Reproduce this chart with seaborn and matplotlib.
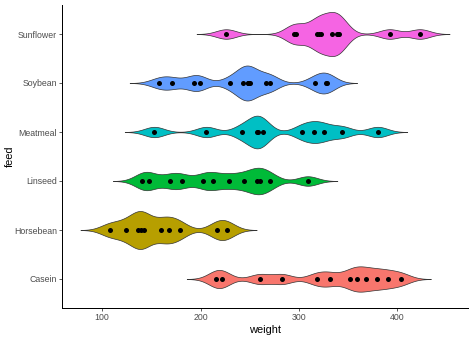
import numpy as np
import pandas as pd
import matplotlib
matplotlib.use("Agg")
import matplotlib.pyplot as plt
import seaborn as sns

# Chick weights by feed supplement
casein = [368, 390, 379, 260, 404, 318, 352, 359, 216, 222, 283, 332]
horsebean = [179, 160, 136, 227, 217, 168, 108, 124, 143, 140]
linseed = [309, 229, 181, 141, 260, 203, 148, 169, 213, 257, 244, 271]
meatmeal = [325, 257, 303, 315, 380, 153, 263, 242, 206, 344, 258]
soybean = [243, 230, 248, 327, 329, 250, 193, 271, 316, 267, 199, 171, 158, 248]
sunflower = [423, 340, 392, 339, 341, 226, 320, 295, 334, 322, 297, 318]

feeds = ["Casein", "Horsebean", "Linseed", "Meatmeal", "Soybean", "Sunflower"]
weights = [casein, horsebean, linseed, meatmeal, soybean, sunflower]
palette = ["#F8766D", "#B79F00", "#00BA38", "#00BFC4", "#619CFF", "#F564E3"]

df = pd.DataFrame({
    "feed": np.repeat(feeds, [len(w) for w in weights]),
    "weight": np.concatenate(weights),
})

# top-to-bottom drawing order
order = feeds[::-1]
colors = dict(zip(feeds, palette))

BW = 10.0   # fixed kernel bandwidth (weight units) for every group
CUT = 3


def fixed_bw(kde):
    return BW / np.std(kde.dataset, ddof=1)


sns.set_theme(style="white")
plt.rcParams["font.family"] = ["Liberation Sans", "DejaVu Sans"]

fig = plt.figure(figsize=(474 / 72, 338 / 72), dpi=72)
ax = fig.add_axes([62 / 474, 1 - 308.4 / 338, (468 - 62) / 474, (308.4 - 4.6) / 338])

sns.violinplot(
    data=df, x="weight", y="feed", order=order, hue="feed", hue_order=order,
    palette=colors, orient="h", inner=None, density_norm="area", common_norm=True,
    width=0.9, bw_method=fixed_bw, cut=CUT, gridsize=512, saturation=1,
    linecolor="#333333", linewidth=0.7, legend=False, ax=ax,
)
sns.stripplot(
    data=df, x="weight", y="feed", order=order, orient="h", jitter=False,
    color="black", size=5, linewidth=0, ax=ax,
)

lo = df["weight"].min() - CUT * BW
hi = df["weight"].max() + CUT * BW
pad = 0.05 * (hi - lo)
ax.set_xlim(lo - pad, hi + pad)
ax.set_ylim(len(order) - 0.4, -0.6)
ax.set_xticks([100, 200, 300, 400])

for side in ["top", "right"]:
    ax.spines[side].set_visible(False)
for side in ["left", "bottom"]:
    ax.spines[side].set_color("black")
    ax.spines[side].set_linewidth(1.0)

ax.tick_params(axis="both", length=2.75, width=0.8, color="#333333",
               labelsize=8.8, labelcolor="#4D4D4D", pad=2.2, left=True, bottom=True)
ax.set_xlabel("weight", fontsize=11, color="black", labelpad=3)
ax.set_ylabel("feed", fontsize=11, color="black")
ax.yaxis.set_label_coords(-0.116, 0.5)

fig.savefig("out.png", dpi=72)
